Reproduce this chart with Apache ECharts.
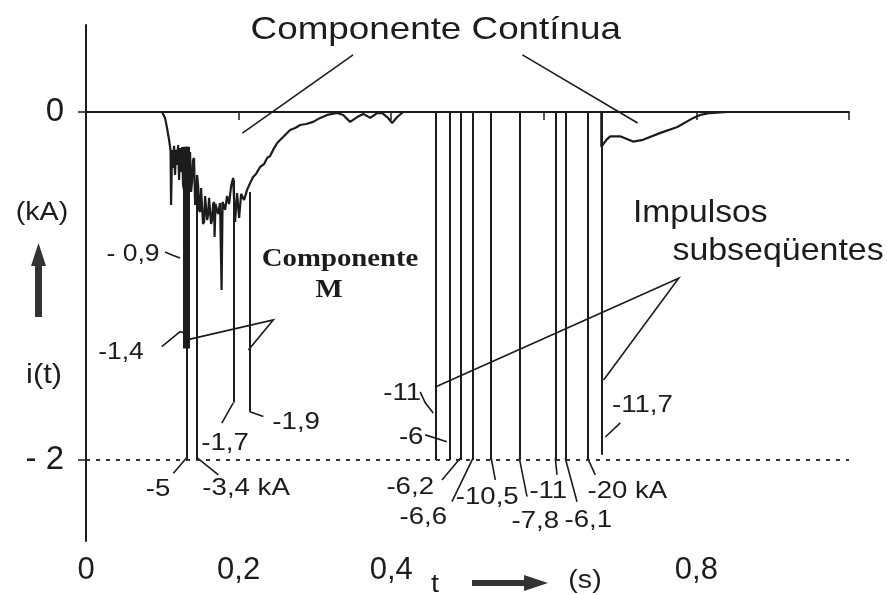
<!DOCTYPE html>
<html>
<head>
<meta charset="utf-8">
<title>Corrente de descarga</title>
<script src="https://cdn.jsdelivr.net/npm/echarts@6/dist/echarts.min.js"></script>
<style>
html, body { margin: 0; padding: 0; background: #fff; }
#chart { width: 887px; height: 595px; }
</style>
</head>
<body>
<div id="chart"></div>
<script>
// componente continua: tempo (s) e corrente (kA)
var traceT = [0, 0.0997, 0.1036, 0.1062, 0.1089, 0.1108, 0.1115,
  0.1128, 0.1141, 0.1154, 0.1167, 0.1180, 0.1193, 0.1207, 0.1220, 0.1233, 0.1246,
  0.1259, 0.1272, 0.1285, 0.1298, 0.1311, 0.1325, 0.1338, 0.1351, 0.1364, 0.1377,
  0.1390, 0.1403, 0.1416, 0.1430, 0.1443, 0.1456, 0.1469, 0.1482, 0.1495, 0.1508,
  0.1521, 0.1534, 0.1548, 0.1561, 0.1574, 0.1587, 0.1600, 0.1613, 0.1626, 0.1639,
  0.1652, 0.1666, 0.1679,
  0.1685, 0.1698, 0.1731, 0.1757, 0.1777, 0.1790, 0.1823, 0.1849, 0.1875, 0.1902,
  0.1928, 0.1954, 0.1980, 0.2007, 0.2033, 0.2072, 0.2111, 0.2151, 0.2190, 0.2229,
  0.2282, 0.2334, 0.2374, 0.2413, 0.2452, 0.2505, 0.2544, 0.2584, 0.2636, 0.2675,
  0.2741, 0.2807, 0.2885, 0.2977, 0.3069, 0.3161, 0.3292, 0.3370, 0.3462, 0.3554,
  0.3633, 0.3725, 0.3816, 0.3882, 0.3948, 0.4013, 0.4079, 0.4157, 0.6754, 0.6754,
  0.678, 0.682, 0.687, 0.700, 0.717, 0.730, 0.753, 0.775, 0.796, 0.805, 0.818, 0.840, 1.0];
var traceI = [0, 0, -0.034, -0.092, -0.161, -0.218, -0.534,
  -0.218, -0.322, -0.195, -0.362, -0.218, -0.305, -0.190, -0.391, -0.207, -0.345,
  -0.201, -0.420, -0.448, -0.230, -0.477, -0.218, -0.420, -0.264, -0.230, -0.460,
  -0.402, -0.276, -0.264, -0.534, -0.506, -0.362, -0.420, -0.563, -0.575, -0.437,
  -0.448, -0.644, -0.632, -0.483, -0.483, -0.621, -0.592, -0.494, -0.500, -0.644,
  -0.621, -0.529, -0.517,
  -0.718, -0.529, -0.586, -0.523, -1.023, -0.517, -0.563, -0.483, -0.529, -0.425,
  -0.379, -0.632, -0.466, -0.609, -0.471, -0.506, -0.448, -0.408, -0.374, -0.356,
  -0.316, -0.299, -0.264, -0.253, -0.218, -0.178, -0.161, -0.144, -0.121, -0.103,
  -0.092, -0.075, -0.069, -0.057, -0.034, -0.017, -0.006, -0.017, -0.057, -0.029,
  -0.011, -0.034, -0.006, -0.006, -0.029, -0.063, -0.029, 0, 0, -0.20,
  -0.20, -0.16, -0.14, -0.14, -0.17, -0.16, -0.12, -0.086, -0.034, -0.017, -0.006, 0, 0];

// impulsos: instante (s), inicio e fim do traco (kA) e valor de pico anotado
var impulseT = [0.1325, 0.145, 0.193, 0.214, 0.4586, 0.4761, 0.4905, 0.5072, 0.5311,
  0.5679, 0.6151, 0.6282, 0.6574, 0.6754];
var impulseTop = [-0.20, -0.47, -0.39, -0.46, 0, 0, 0, 0, 0, 0, 0, 0, 0, 0];
var impulseEnd = [-2, -2, -1.67, -1.72, -2, -2, -2, -2, -2, -2, -2, -2, -2, -1.97];
var impulseLabels = ['-5', '-3,4 kA', '-1,7', '-1,9', '-11', '-6', '-6,2', '-6,6',
  '-10,5', '-7,8', '-11', '-6,1', '-20 kA', '-11,7'];

// componente M sobre o primeiro impulso
var mBandT = 0.1311;
var mBandI = [-0.20, -1.36];

var xTicks = [0, 0.2, 0.4, 0.6, 0.8, 1];
var xLabels = [0, 0.2, 0.4, 0.8];
var yLabels = [0, -2];
var clipLevel = -2;

// posicao das anotacoes (em coordenadas do grafico)
var impulseLabelAt = [[0.0944, -2.172], [0.2098, -2.161], [0.1823, -1.902], [0.2754, -1.787],
  [0.4144, -1.615], [0.4262, -1.868], [0.4249, -2.155], [0.4420, -2.328], [0.5259, -2.213],
  [0.5889, -2.356], [0.6059, -2.178], [0.6584, -2.345], [0.7095, -2.178], [0.7292, -1.684]];

var leaders = [
  [[0.350, 0.328], [0.205, -0.121]],
  [[0.572, 0.328], [0.723, -0.063]],
  [[0.1036, -0.805], [0.1128, -0.822], [0.1233, -0.839]],
  [[0.0993, -1.349], [0.1233, -1.263], [0.1298, -1.270]],
  [[0.1321, -1.310], [0.2456, -1.195], [0.2128, -1.368]],
  [[0.1325, -1.985], [0.1145, -2.076]],
  [[0.145, -1.985], [0.1735, -2.086]],
  [[0.193, -1.672], [0.1780, -1.789]],
  [[0.214, -1.722], [0.2325, -1.751]],
  [[0.4380, -1.609], [0.4446, -1.672], [0.4551, -1.730]],
  [[0.4446, -1.856], [0.4731, -1.895]],
  [[0.4905, -1.99], [0.4665, -2.115]],
  [[0.5072, -1.99], [0.4796, -2.240]],
  [[0.5311, -1.99], [0.5364, -2.115]],
  [[0.5679, -1.99], [0.5780, -2.211]],
  [[0.6151, -1.99], [0.6173, -2.086]],
  [[0.6282, -1.99], [0.6435, -2.240]],
  [[0.6574, -1.99], [0.6675, -2.086]],
  [[0.7003, -1.787], [0.6807, -1.868]],
  [[0.4586, -1.579], [0.7768, -0.956], [0.6784, -1.540]]
];

var SANS = '"Liberation Sans", Arial, sans-serif';
var SERIF = '"Liberation Serif", "Times New Roman", serif';
var notes = [
  { text: 'Componente Contínua', at: [0.4584, 0.471], font: '32px ' + SANS, sx: 1.15 },
  { text: 'Componente', at: [0.333, -0.851], font: 'bold 25px ' + SERIF, sx: 1.15 },
  { text: 'M', at: [0.3187, -1.029], font: 'bold 25px ' + SERIF, sx: 1.15 },
  { text: 'Impulsos', at: [0.805, -0.580], font: '32px ' + SANS, sx: 1.05 },
  { text: 'subseqüentes', at: [0.907, -0.799], font: '32px ' + SANS, sx: 1.06 },
  { text: '- 0,9', at: [0.0616, -0.822], font: '23px ' + SANS, sx: 1.15 },
  { text: '-1,4', at: [0.0459, -1.385], font: '23px ' + SANS, sx: 1.15 }
];
impulseLabels.forEach(function (s, k) {
  notes.push({ text: s, at: impulseLabelAt[k], font: '24px ' + SANS, sx: 1.15 });
});

var INK = '#1c1c1c';

var myChart = echarts.init(document.getElementById('chart'));
var option = {
  animation: false,
  backgroundColor: '#fff',
  grid: { left: 86, right: 38, top: 25, bottom: 54 },
  xAxis: {
    type: 'value', min: 0, max: 1,
    axisLine: { lineStyle: { color: INK, width: 2 } },
    axisTick: { show: true, customValues: xTicks, length: 8, lineStyle: { color: INK, width: 1.5 } },
    axisLabel: {
      customValues: xLabels, margin: 14, color: INK, fontSize: 31, fontFamily: SANS,
      formatter: function (v) { return String(v).replace('.', ','); }
    },
    splitLine: { show: false }
  },
  yAxis: {
    type: 'value', min: -2.466, max: 0.5,
    axisLine: { show: true, lineStyle: { color: INK, width: 2 } },
    axisTick: { show: true, customValues: yLabels, length: 8, lineStyle: { color: INK, width: 1.5 } },
    axisLabel: {
      customValues: yLabels, margin: 22, color: INK, fontSize: 33, fontFamily: SANS,
      formatter: function (v) { return v === 0 ? '0' : '- ' + Math.abs(v); }
    },
    splitLine: { show: false }
  },
  series: [
    {
      name: 'Componente contínua',
      type: 'line',
      symbol: 'none',
      data: traceT.map(function (t, k) { return [t, traceI[k]]; }),
      lineStyle: { color: INK, width: 2.2 },
      markLine: {
        silent: true, symbol: 'none', label: { show: false },
        lineStyle: { color: '#333', type: [4, 6], width: 2 },
        data: [{ yAxis: clipLevel }]
      }
    },
    {
      name: 'Impulsos',
      type: 'lines',
      coordinateSystem: 'cartesian2d',
      silent: true,
      lineStyle: { color: INK, width: 2, opacity: 1, curveness: 0 },
      data: impulseT.map(function (t, k) {
        return { coords: [[t, impulseTop[k]], [t, impulseEnd[k]]] };
      })
    },
    {
      name: 'Componente M',
      type: 'lines',
      coordinateSystem: 'cartesian2d',
      silent: true,
      lineStyle: { color: INK, width: 7, opacity: 1, curveness: 0 },
      data: [{ coords: [[mBandT, mBandI[0]], [mBandT, mBandI[1]]] }]
    },
    {
      name: 'Anotações',
      type: 'lines',
      coordinateSystem: 'cartesian2d',
      polyline: true,
      silent: true,
      lineStyle: { color: INK, width: 1.6, opacity: 1, curveness: 0 },
      data: leaders.map(function (c) { return { coords: c }; })
    }
  ]
};
myChart.setOption(option);

// textos das anotacoes, posicionados pela escala do grafico
var graphics = notes.map(function (n) {
  var p = myChart.convertToPixel({ gridIndex: 0 }, n.at);
  return {
    type: 'text', x: p[0], y: p[1], scaleX: n.sx, silent: true,
    style: {
      text: n.text, font: n.font, fill: INK,
      align: 'center', verticalAlign: 'middle',
      textAlign: 'center', textVerticalAlign: 'middle'
    }
  };
});

// nomes dos eixos
function label(text, x, y, size) {
  return {
    type: 'text', x: x, y: y, scaleX: 1.1, silent: true,
    style: {
      text: text, font: size + 'px ' + SANS, fill: INK,
      align: 'center', verticalAlign: 'middle',
      textAlign: 'center', textVerticalAlign: 'middle'
    }
  };
}
graphics.push(label('(kA)', 42, 213, 26));
graphics.push(label('i(t)', 44, 375, 28));
graphics.push(label('t', 435, 585, 26));
graphics.push(label('(s)', 585, 581, 26));
graphics.push({ type: 'rect', silent: true, shape: { x: 35, y: 262, width: 7, height: 55 }, style: { fill: '#333' } });
graphics.push({ type: 'polygon', silent: true, shape: { points: [[31, 266], [38.5, 243], [46, 266]] }, style: { fill: '#333' } });
graphics.push({ type: 'rect', silent: true, shape: { x: 472, y: 580, width: 55, height: 6 }, style: { fill: '#333' } });
graphics.push({ type: 'polygon', silent: true, shape: { points: [[524, 575], [548, 583], [524, 591]] }, style: { fill: '#333' } });

myChart.setOption({ graphic: graphics });
</script>
</body>
</html>
